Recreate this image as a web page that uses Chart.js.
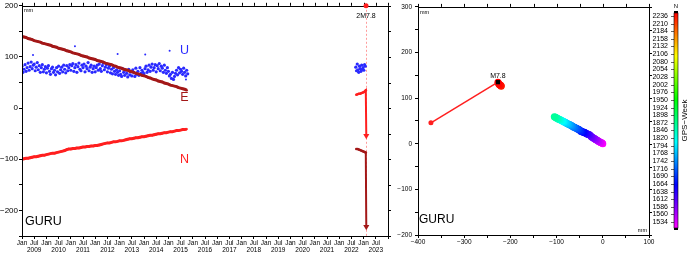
<!DOCTYPE html>
<html>
<head>
<meta charset="utf-8">
<script src="https://cdn.jsdelivr.net/npm/chart.js@4.4.0/dist/chart.umd.min.js"></script>
<style>
  body { margin: 0; background: #fff; }
  #wrap { position: relative; width: 689px; height: 263px; }
  #left { position: absolute; left: 0; top: 0; }
  #right { position: absolute; left: 392px; top: 0; }
</style>
</head>
<body>
<div id="wrap">
  <canvas id="left" width="392" height="263"></canvas>
  <canvas id="right" width="297" height="263"></canvas>
</div>
<script>
const station = "GURU";
const seriesNames = ["U", "E", "N"];

// monthly values, Jan 2009 .. Oct 2015 (mm)
const firstMonth = 2009.0;
const eastMm = [
  140, 139, 138, 136, 135, 134, 132, 131, 130, 129, 127, 126,
  125, 124, 123, 121, 120, 119, 117, 116, 115, 114, 112, 111,
  110, 108, 107, 106, 105, 103, 102, 101, 100, 98, 97, 96,
  95, 93, 92, 91, 90, 88, 87, 86, 85, 83, 82, 80,
  79, 78, 76, 75, 74, 72, 71, 70, 68, 67, 66, 64,
  63, 62, 60, 59, 57, 56, 55, 53, 52, 51, 49, 48,
  47, 45, 44, 43, 42, 40, 39, 38, 37, 35
];
const northMm = [
  -100, -99, -98, -98, -97, -96, -95, -95, -94, -93, -92, -92,
  -91, -90, -89, -88, -88, -87, -86, -85, -84, -83, -81, -80,
  -80, -79, -79, -78, -78, -77, -76, -76, -75, -75, -74, -74,
  -73, -73, -72, -71, -70, -69, -68, -68, -67, -66, -66, -65,
  -64, -64, -63, -62, -61, -60, -60, -59, -58, -58, -57, -56,
  -56, -55, -54, -53, -53, -52, -51, -50, -50, -49, -48, -48,
  -47, -46, -46, -45, -44, -44, -43, -42, -42, -41
];
// up, twice a month over the same span
const upMm = [
  82, 70, 76, 85, 72, 79, 88, 74, 81, 90, 77, 84, 86, 73, 80, 89, 75, 83, 70, 79, 85, 71, 76, 81,
  69, 78, 83, 72, 66, 77, 80, 70, 74, 65, 79, 71, 82, 68, 75, 80, 71, 84, 76, 69, 83, 73, 79, 85,
  74, 83, 87, 72, 79, 85, 70, 81, 88, 76, 73, 84, 79, 86, 71, 82, 77, 89, 73, 80, 84, 70, 77, 82,
  71, 79, 84, 74, 86, 77, 72, 83, 88, 75, 80, 85, 71, 78, 82, 69, 76, 67, 79, 72, 66, 75, 70, 64,
  73, 66, 62, 77, 70, 64, 74, 68, 61, 76, 65, 71, 63, 75, 69, 62, 78, 66, 72, 64, 79, 68, 74, 70,
  67, 77, 82, 70, 75, 84, 72, 80, 86, 74, 79, 85, 71, 83, 77, 87, 73, 82, 78, 70, 84, 74, 68, 79,
  72, 63, 66, 58, 70, 56, 62, 68, 74, 65, 79, 69, 76, 72, 66, 78, 70, 63, 74, 67
];
const upOutlierYears = [2009.45, 2011.17, 2012.92, 2014.05, 2015.05, 2015.72];
const upOutlierMm = [104, 121, 106, 105, 112, 56];

// after the data gap: late 2022 up to the quake
const lateYears = [2022.70, 2022.75, 2022.80, 2022.85, 2022.90, 2022.95, 2023.00, 2023.05, 2023.09];
const lateEastMm = [-80, -80, -81, -82, -83, -84, -85, -86, -87];
const lateNorthMm = [26, 27, 28, 28, 29, 30, 31, 33, 35];
const lateUpYears = [2022.68, 2022.71, 2022.74, 2022.77, 2022.80, 2022.83, 2022.86, 2022.89, 2022.92, 2022.95, 2022.98, 2023.01, 2023.04, 2023.07];
const lateUpMm = [80, 73, 86, 75, 70, 82, 77, 72, 84, 76, 79, 74, 85, 82];

// the quake and the first position after it
const quakeYear = 2023.10;
const quakeLabel = "2M7.8";
const quakeShortLabel = "M7.8";
const postYear = 2023.11;
const postEastMm = -232;
const postNorthMm = -54;

// colour bar, GPS week
const weekTicks = [1534, 1560, 1586, 1612, 1638, 1664, 1690, 1716, 1742, 1768, 1794, 1820, 1846, 1872,
  1898, 1924, 1950, 1976, 2002, 2028, 2054, 2080, 2106, 2132, 2158, 2184, 2210, 2236];
const weekMin = 1514, weekMax = 2246;

const FONT = "'Liberation Sans', Arial, sans-serif";
const darkRed = '#a31818', red = '#ff1f1f', blue = '#2a2aff';
const rainbow = [[255, 0, 255], [0, 0, 255], [0, 255, 255], [0, 255, 0], [255, 255, 0], [255, 0, 0]];

function weekColor(w) {
  let f = (w - weekMin) / (weekMax - weekMin);
  f = Math.max(0, Math.min(1, f)) * (rainbow.length - 1);
  const i = Math.min(Math.floor(f), rainbow.length - 2);
  const t = f - i;
  const c = rainbow[i].map((v, k) => Math.round(v + (rainbow[i + 1][k] - v) * t));
  return `rgb(${c.join(',')})`;
}
const gpsWeek = t => (t - 1980.0137) * 365.25 / 7;
const pts = (xs, ys) => ys.map((v, i) => ({ x: xs[i], y: v }));
const minus = v => String(v).replace('-', '\u2212');
const range = (a, b, s) => { const r = []; for (let v = a; v <= b + 1e-9; v += s) r.push({ value: v }); return r; };

const monthYears = eastMm.map((_, i) => firstMonth + i / 12);
const upYears = upMm.map((_, i) => firstMonth + i / 24);

// box round the plot with ticks on the top and right sides
const framePlugin = {
  id: 'frame',
  afterDraw(chart) {
    const { ctx, chartArea: a, scales } = chart;
    ctx.save();
    ctx.strokeStyle = '#000';
    ctx.lineWidth = 1;
    ctx.strokeRect(Math.round(a.left) + 0.5, Math.round(a.top) + 0.5, Math.round(a.right - a.left), Math.round(a.bottom - a.top));
    ctx.beginPath();
    scales.x.ticks.forEach(t => {
      const px = Math.round(scales.x.getPixelForValue(t.value)) + 0.5;
      ctx.moveTo(px, a.top); ctx.lineTo(px, a.top - 3);
    });
    scales.y.ticks.forEach(t => {
      const py = Math.round(scales.y.getPixelForValue(t.value)) + 0.5;
      ctx.moveTo(a.right, py); ctx.lineTo(a.right + 3, py);
    });
    ctx.stroke();
    ctx.restore();
  }
};

const leftNotes = {
  id: 'leftNotes',
  beforeDatasetsDraw(chart) {
    const { ctx, chartArea: a, scales: { x } } = chart;
    const qx = Math.round(x.getPixelForValue(quakeYear)) + 0.5;
    ctx.save();
    ctx.strokeStyle = '#ff9c9c';
    ctx.setLineDash([2, 2]);
    ctx.beginPath(); ctx.moveTo(qx, a.top); ctx.lineTo(qx, a.bottom); ctx.stroke();
    ctx.restore();
  },
  afterDraw(chart) {
    const { ctx, chartArea: a, scales: { x, y } } = chart;
    const qx = x.getPixelForValue(quakeYear);
    ctx.save();
    ctx.fillStyle = red;
    ctx.beginPath(); ctx.arc(qx, a.top, 2.5, 0, Math.PI * 2); ctx.fill();
    ctx.fillStyle = '#000';
    ctx.font = `7px ${FONT}`;
    ctx.textAlign = 'center';
    ctx.textBaseline = 'alphabetic';
    ctx.fillText(quakeLabel, qx, a.top + 12);
    ctx.textAlign = 'left';
    ctx.font = `5.5px ${FONT}`;
    ctx.fillText('mm', a.left + 2, a.top + 6);
    ctx.font = `12.5px ${FONT}`;
    ctx.fillText(station, a.left + 3, a.bottom - 11);
    ctx.textAlign = 'center';
    const lx = x.getPixelForValue(2015.66);
    [[seriesNames[0], 105, blue], [seriesNames[1], 14, darkRed], [seriesNames[2], -107, red]].forEach(([s, v, c]) => {
      ctx.fillStyle = c;
      ctx.fillText(s, lx, y.getPixelForValue(v));
    });
    ctx.restore();
  }
};

const dotSet = (data, color, r) => ({
  data, showLine: false, pointRadius: r, pointBackgroundColor: color, pointBorderWidth: 0
});
const lineSet = (data, color, w) => ({
  data, showLine: true, borderColor: color, borderWidth: w,
  pointRadius: 1.2, pointBackgroundColor: color, pointBorderWidth: 0
});
const jumpSet = (data, color) => {
  const last = data.length - 1;
  return {
    data, showLine: true, borderColor: color, borderWidth: 2, pointBorderWidth: 0,
    pointBackgroundColor: color,
    pointStyle: c => c.dataIndex === last ? 'triangle' : 'circle',
    pointRotation: c => c.dataIndex === last ? 180 : 0,
    pointRadius: c => c.dataIndex === last ? 3.5 : 1.3
  };
};

const tickFont = size => ({ size, family: FONT });

new Chart(document.getElementById('left'), {
  type: 'scatter',
  data: {
    datasets: [
      jumpSet([...pts(lateYears, lateEastMm), { x: postYear, y: postEastMm }], darkRed),
      jumpSet([...pts(lateYears, lateNorthMm), { x: postYear, y: postNorthMm }], red),
      lineSet(pts(monthYears, eastMm), darkRed, 3),
      lineSet(pts(monthYears, northMm), red, 3),
      dotSet(pts(upYears, upMm), blue, 1.6),
      dotSet(pts(upOutlierYears, upOutlierMm), blue, 1),
      dotSet(pts(lateUpYears, lateUpMm), blue, 1.6)
    ]
  },
  options: {
    responsive: false, animation: false, devicePixelRatio: 1,
    layout: { padding: { top: 4, right: 3, left: 0, bottom: 0 } },
    plugins: { legend: { display: false }, tooltip: { enabled: false } },
    scales: {
      x: {
        type: 'linear', min: 2009, max: 2024,
        afterBuildTicks: s => { s.ticks = range(2009, 2024, 0.5); },
        afterFit: s => { s.height = 27; },
        grid: { drawOnChartArea: false, tickLength: 3, color: '#000' },
        border: { color: '#000' },
        ticks: {
          autoSkip: false, maxRotation: 0, padding: 0, color: '#000', font: tickFont(6.5),
          callback: v => v >= 2024 ? '' : (v % 1 === 0 ? 'Jan' : ['Jul', String(Math.floor(v))])
        }
      },
      y: {
        min: -250, max: 200,
        afterBuildTicks: s => { s.ticks = range(-250, 200, 50); },
        afterFit: s => { s.width = 22; },
        grid: { drawOnChartArea: false, tickLength: 3, color: '#000' },
        border: { color: '#000' },
        ticks: { padding: 1, color: '#000', font: tickFont(8), callback: v => v % 100 === 0 ? minus(v) : '' }
      }
    }
  },
  plugins: [framePlugin, leftNotes]
});

// horizontal track, relative to the first position
const track = monthYears.map((t, i) => ({ x: eastMm[i] - eastMm[0], y: northMm[i] - northMm[0], w: gpsWeek(t) }))
  .concat(lateYears.map((t, i) => ({ x: lateEastMm[i] - eastMm[0], y: lateNorthMm[i] - northMm[0], w: gpsWeek(t) })));
const preQuake = track[track.length - 1];
const postQuake = { x: postEastMm - eastMm[0], y: postNorthMm - northMm[0] };

const rightNotes = {
  id: 'rightNotes',
  afterDraw(chart) {
    const { ctx, chartArea: a, scales: { x, y } } = chart;
    ctx.save();
    ctx.fillStyle = '#000';
    ctx.font = `7px ${FONT}`;
    ctx.textAlign = 'center';
    ctx.fillText(quakeShortLabel, x.getPixelForValue(preQuake.x), y.getPixelForValue(preQuake.y) - 4);
    ctx.font = `5.5px ${FONT}`;
    ctx.textAlign = 'left';
    ctx.fillText('mm', a.left + 2, a.top + 7);
    ctx.textAlign = 'right';
    ctx.fillText('mm', a.right - 2, a.bottom - 3);
    ctx.textAlign = 'left';
    ctx.font = `12px ${FONT}`;
    ctx.fillText(station, a.left + 1, a.bottom - 12);

    // colour bar
    const bx = a.right + 25, bw = 4, top = 13, bot = 228;
    const g = ctx.createLinearGradient(0, bot, 0, top);
    rainbow.forEach((c, i) => g.addColorStop(i / (rainbow.length - 1), `rgb(${c.join(',')})`));
    ctx.fillStyle = g;
    ctx.fillRect(bx, top, bw, bot - top);
    ctx.fillStyle = '#000';
    ctx.fillRect(bx, top - 2, bw, 2);
    ctx.fillRect(bx, bot, bw, 2);
    ctx.strokeStyle = '#000';
    ctx.lineWidth = 0.6;
    ctx.strokeRect(bx, top, bw, bot - top);
    ctx.font = `7px ${FONT}`;
    ctx.textAlign = 'right';
    ctx.textBaseline = 'middle';
    ctx.beginPath();
    weekTicks.forEach(w => {
      const py = bot - (w - weekMin) / (weekMax - weekMin) * (bot - top);
      ctx.fillText(String(w), bx - 6, py);
      ctx.moveTo(bx - 3, Math.round(py) + 0.5); ctx.lineTo(bx, Math.round(py) + 0.5);
    });
    ctx.stroke();
    ctx.textAlign = 'center';
    ctx.font = `6px ${FONT}`;
    ctx.fillText('N', bx + bw / 2, 6);
    ctx.translate(bx + 11, (top + bot) / 2);
    ctx.rotate(-Math.PI / 2);
    ctx.font = `8px ${FONT}`;
    ctx.fillText('GPS\u2212Week', 0, 0);
    ctx.restore();
  }
};

new Chart(document.getElementById('right'), {
  type: 'scatter',
  data: {
    datasets: [
      { data: [preQuake], pointStyle: 'rect', pointRadius: 3, pointBackgroundColor: '#000', pointBorderWidth: 0 },
      {
        data: [preQuake, postQuake], showLine: true, borderColor: red, borderWidth: 1.5,
        pointRadius: [0, 2.5], pointBackgroundColor: red, pointBorderWidth: 0
      },
      {
        data: track, showLine: false, pointRadius: 3.5, pointBorderWidth: 0,
        pointBackgroundColor: c => weekColor(c.raw.w)
      }
    ]
  },
  options: {
    responsive: false, animation: false, devicePixelRatio: 1,
    layout: { padding: { top: 3, right: 40, left: 0, bottom: 0 } },
    plugins: { legend: { display: false }, tooltip: { enabled: false } },
    scales: {
      x: {
        type: 'linear', min: -400, max: 100,
        afterBuildTicks: s => { s.ticks = range(-400, 100, 50); },
        afterFit: s => { s.height = 28; },
        grid: { drawOnChartArea: false, tickLength: 3, color: '#000' },
        border: { color: '#000' },
        ticks: { padding: 0, maxRotation: 0, autoSkip: false, color: '#000', font: tickFont(6.5), callback: v => v % 100 === 0 ? minus(v) : '' }
      },
      y: {
        min: -200, max: 300,
        afterBuildTicks: s => { s.ticks = range(-200, 300, 50); },
        afterFit: s => { s.width = 26; },
        grid: { drawOnChartArea: false, tickLength: 3, color: '#000' },
        border: { color: '#000' },
        ticks: { padding: 3, color: '#000', font: tickFont(6.5), callback: v => v % 100 === 0 ? minus(v) : '' }
      }
    }
  },
  plugins: [framePlugin, rightNotes]
});
</script>
</body>
</html>
